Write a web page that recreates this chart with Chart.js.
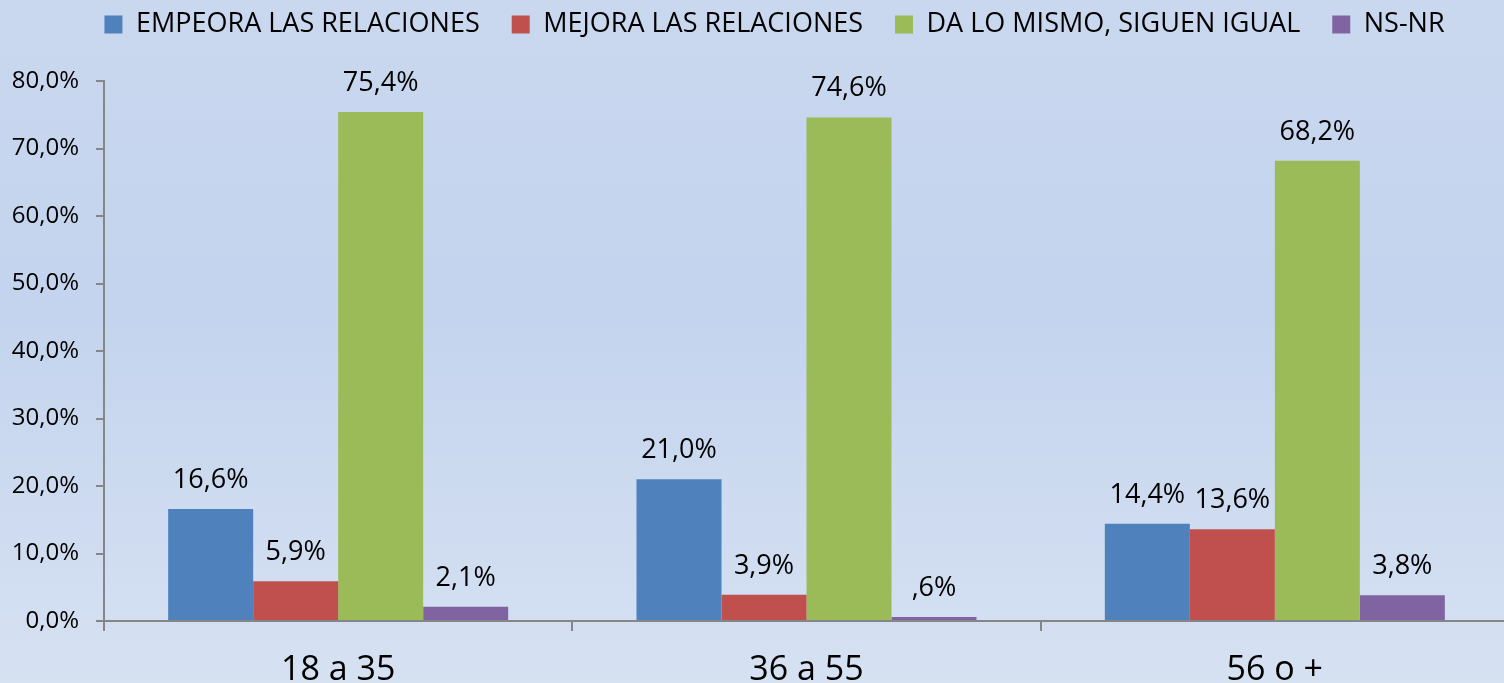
<!DOCTYPE html>
<html lang="es">
<head>
    <meta charset="UTF-8">
    <title>Relaciones por edad</title>
    <script src="https://cdn.jsdelivr.net/npm/chart.js"></script>
    <style>
        html, body { margin: 0; padding: 0; width: 1504px; height: 683px; overflow: hidden; }
        body { background: linear-gradient(to bottom, #c9d8ee 0%, #c4d4ee 45%, #d6e1f2 100%); font-family: "Open Sans", sans-serif; }
        #wrap { position: absolute; left: 0; top: -21px; width: 1509px; height: 704px; }
    </style>
</head>
<body>
    <div id="wrap"><canvas id="edadChart"></canvas></div>

    <script>
        // datos
        const categorias = ['18 a 35', '36 a 55', '56 o +'];
        const empeora = [16.6, 21.0, 14.4];
        const mejora = [5.9, 3.9, 13.6];
        const igual = [75.4, 74.6, 68.2];
        const nsnr = [2.1, 0.6, 3.8];
        const yTicks = [0, 10, 20, 30, 40, 50, 60, 70, 80];

        const axisGray = '#868686';
        const fmt = v => {
            let s = v.toFixed(1).replace('.', ',');
            if (v < 1) s = s.replace(/^0/, '');
            return s + '%';
        };

        // etiquetas encima de cada barra
        const barLabels = {
            id: 'barLabels',
            afterDatasetsDraw(chart) {
                const ctx = chart.ctx;
                ctx.save();
                ctx.font = '27px "Open Sans"';
                ctx.fillStyle = '#000';
                ctx.textAlign = 'center';
                ctx.textBaseline = 'alphabetic';
                chart.data.datasets.forEach((ds, i) => {
                    chart.getDatasetMeta(i).data.forEach((bar, j) => {
                        ctx.fillText(fmt(ds.data[j]), bar.x, bar.y - 21);
                    });
                });
                ctx.restore();
            }
        };

        // altura fija de la leyenda y desplazamiento a la derecha
        const legendFix = {
            id: 'legendFix',
            beforeInit(chart) {
                const fit = chart.legend.fit;
                chart.legend.fit = function () {
                    fit.bind(chart.legend)();
                    this.height = 102;
                };
            },
            afterLayout(chart) {
                chart.legend.left += 20;
                chart.legend.right += 20;
            }
        };

        const edadChart = new Chart(document.getElementById('edadChart'), {
            type: 'bar',
            data: {
                labels: categorias,
                datasets: [
                    { label: 'EMPEORA LAS RELACIONES', data: empeora, backgroundColor: '#4f81bd' },
                    { label: 'MEJORA LAS RELACIONES', data: mejora, backgroundColor: '#c0504d' },
                    { label: 'DA LO MISMO, SIGUEN IGUAL', data: igual, backgroundColor: '#9bbb59' },
                    { label: 'NS-NR', data: nsnr, backgroundColor: '#8064a2' }
                ]
            },
            options: {
                responsive: true,
                maintainAspectRatio: false,
                animation: false,
                layout: { padding: 0 },
                datasets: { bar: { categoryPercentage: 0.726, barPercentage: 1 } },
                plugins: {
                    tooltip: { enabled: false },
                    legend: {
                        position: 'top',
                        labels: {
                            boxWidth: 18,
                            boxHeight: 18,
                            padding: 32,
                            color: '#000',
                            font: { family: 'Open Sans', size: 27 }
                        }
                    }
                },
                scales: {
                    x: {
                        grid: { drawOnChartArea: false, tickLength: 10, color: axisGray, lineWidth: 2 },
                        border: { color: axisGray, width: 2 },
                        ticks: { color: '#000', font: { family: 'Open Sans', size: 34 }, padding: 19 },
                        afterFit(scale) { scale.height = 62; }
                    },
                    y: {
                        min: 0,
                        max: 80,
                        afterBuildTicks(scale) { scale.ticks = yTicks.map(v => ({ value: v })); },
                        grid: { drawOnChartArea: false, tickLength: 8, color: axisGray, lineWidth: 2 },
                        border: { color: axisGray, width: 2 },
                        ticks: {
                            color: '#000',
                            padding: 17,
                            font: { family: 'Open Sans', size: 24 },
                            callback: v => v.toFixed(1).replace('.', ',') + '%'
                        },
                        afterFit(scale) { scale.width = 104; }
                    }
                }
            },
            plugins: [barLabels, legendFix]
        });
    </script>
</body>
</html>
